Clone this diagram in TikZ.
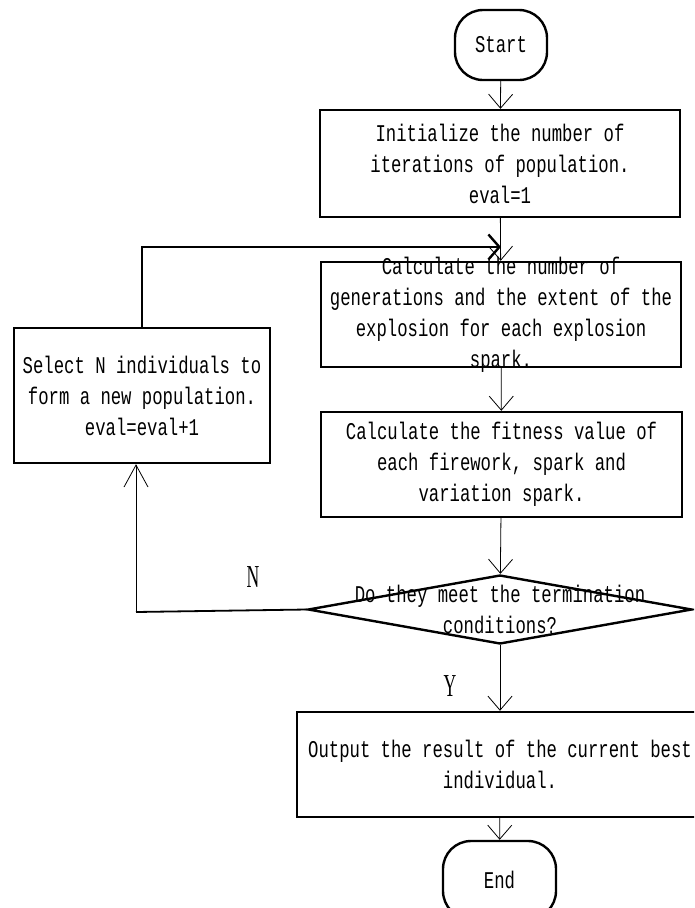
\documentclass[tikz,border=0pt]{standalone}
\usepackage{fontspec}
\newfontfamily\flowfont[FakeStretch=0.72]{Liberation Mono}
\newfontfamily\markfont[FakeStretch=0.55]{Liberation Serif}
\usetikzlibrary{arrows.meta}
\usetikzlibrary{shapes.geometric}

\begin{document}
\begin{tikzpicture}[x = 1pt, y = -1pt, font = \fontsize{24}{31}\selectfont\flowfont]
\tikzstyle{termStyle} = [draw, line width = 2.4pt, rounded corners = 28pt, inner sep = 0pt]
\tikzstyle{boxStyle} = [draw, line width = 2.4pt, inner sep = 0pt, align = center]
\tikzstyle{condStyle} = [draw, diamond, line width = 2.4pt, inner sep = 0pt]
\tikzstyle{textStyle} = [align = center, inner sep = 0pt]
\tikzstyle{markStyle} = [font = \fontsize{32}{32}\selectfont\markfont, inner sep = 0pt]
\tikzstyle{thinArrow} = [line width = 0.8pt, -{Straight Barb[length = 14pt, width = 24pt]}]
\tikzstyle{upArrow} = [line width = 0.8pt, -{Straight Barb[length = 22pt, width = 24pt]}]
\tikzstyle{loopArrow} = [line width = 2.4pt, -{Straight Barb[length = 11pt, width = 25pt]}]
\useasboundingbox (0, 0) rectangle (694, 908);
\clip (0, 0) rectangle (694, 908);
% main column
\node[termStyle, minimum width = 92pt, minimum height = 70pt] (start) at (501, 45) {Start};
\node[boxStyle, minimum width = 360pt, minimum height = 107pt] (init) at (500, 163.5)
  {Initialize the number of\\iterations of population.\\eval=1};
\node[boxStyle, minimum width = 360pt, minimum height = 105pt,
  label = {[textStyle]center:{Calculate the number of\\generations and the extent of the\\explosion for each explosion\\spark.}}]
  (calc) at (501, 314.5) {};
\node[boxStyle, minimum width = 361pt, minimum height = 105pt] (fit) at (501.5, 464.5)
  {Calculate the fitness value of\\each firework, spark and\\variation spark.};
\node[condStyle, minimum width = 384pt, minimum height = 69pt,
  label = {[textStyle]center:{Do they meet the termination\\conditions?}}]
  (cond) at (500, 609.5) {};
\node[boxStyle, minimum width = 406pt, minimum height = 105pt] (out) at (500, 764.5)
  {Output the result of the current best\\individual.};
\node[termStyle, minimum width = 113pt, minimum height = 78pt] (end) at (499.5, 880) {End};
% side box
\node[boxStyle, minimum width = 256pt, minimum height = 135pt] (sel) at (142, 395.5)
  {Select N individuals to\\form a new population.\\eval=eval+1};
\node[markStyle] (nMark) at (253, 577) {N};
\node[markStyle] (yMark) at (450, 686) {Y};
\coordinate (back) at (501, 247);
\coordinate (turn) at (136, 612);
\draw[thinArrow] (start) -- (init);
\draw[thinArrow] (init) -- (calc);
\draw[thinArrow] (calc) -- (fit);
\draw[thinArrow] (fit) -- (cond);
\draw[thinArrow] (cond) -- (out);
\draw[thinArrow] (out) -- (end);
\draw[line width = 1.8pt] (cond.west) -- (turn);
\draw[upArrow] (turn) -- (turn |- sel.south);
\draw[loopArrow] (sel.north) |- (back);
\end{tikzpicture}
\end{document}
